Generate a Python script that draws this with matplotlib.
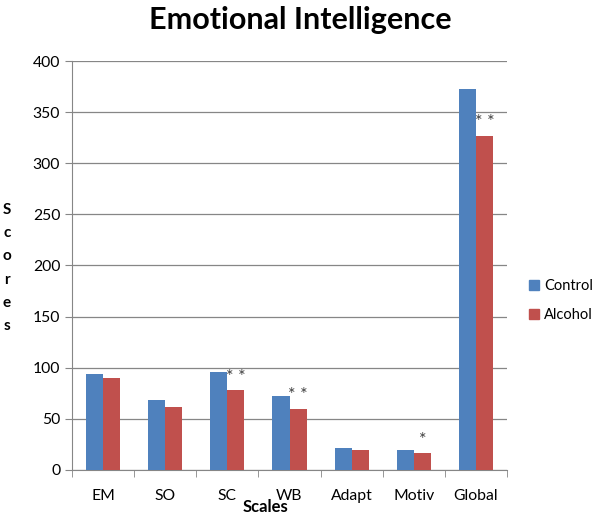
import numpy as np
import matplotlib.pyplot as plt
from matplotlib.patches import Patch

# data
scales = ["EM", "SO", "SC", "WB", "Adapt", "Motiv", "Global"]
control = [94, 68, 96, 72, 21.5, 19.5, 373]
alcohol = [90, 61, 78, 60, 19, 16.5, 327]
signif = ["", "", "**", "**", "", "*", "**"]

plt.rcParams['font.family'] = ['Lato', 'DejaVu Sans']

blue = "#4F81BD"
red = "#C0504D"
grid_c = "#868686"

fig = plt.figure(figsize=(6.0, 5.14), dpi=100)
ax = fig.add_axes([0.12, 0.086, 0.725, 0.795])

x = np.arange(len(scales))
w = 0.275
ax.bar(x - w / 2, control, width=w, color=blue, zorder=3)
ax.bar(x + w / 2, alcohol, width=w, color=red, zorder=3)

for xi, val, s in zip(x, alcohol, signif):
    if s:
        ax.text(xi + w / 2, val + 13, " ".join(s), ha="center",
                va="center", fontsize=13, color="#404040")

ax.set_xlim(-0.5, len(scales) - 0.5)
ax.set_ylim(0, 400)
ax.set_yticks(np.arange(0, 401, 50))
ax.yaxis.grid(True, color=grid_c, linewidth=0.9, zorder=0)
ax.set_axisbelow(True)

ax.set_xticks(x)
ax.set_xticklabels(scales, fontsize=11.3)
ax.set_xticks(np.arange(-0.5, len(scales)), minor=True)
ax.tick_params(axis="x", which="major", length=0, pad=14)
ax.tick_params(axis="x", which="minor", length=5, color=grid_c)
ax.tick_params(axis="y", length=5, color=grid_c, labelsize=11.3)

for side in ["top", "right"]:
    ax.spines[side].set_visible(False)
for side in ["left", "bottom"]:
    ax.spines[side].set_color(grid_c)

fig.text(0.5, 0.962, "Emotional Intelligence", ha="center", va="center",
         fontsize=22, fontweight="bold")
fig.text(265 / 600, 1 - 507 / 514, "Scales", ha="center", va="center",
         fontsize=12, fontweight="bold")
fig.text(7 / 600, 1 - 268 / 514, "S\nc\no\nr\ne\ns", ha="center", va="center",
         fontsize=11, fontweight="bold", linespacing=1.85)

handles = [Patch(color=blue, label="Control"), Patch(color=red, label="Alcohol")]
fig.legend(handles=handles, loc="center left", bbox_to_anchor=(0.865, 0.415),
           frameon=False, fontsize=10.5, handlelength=0.7, handleheight=0.7,
           handletextpad=0.3, labelspacing=1.0, borderpad=0.2)

fig.savefig("out.png", dpi=100)
